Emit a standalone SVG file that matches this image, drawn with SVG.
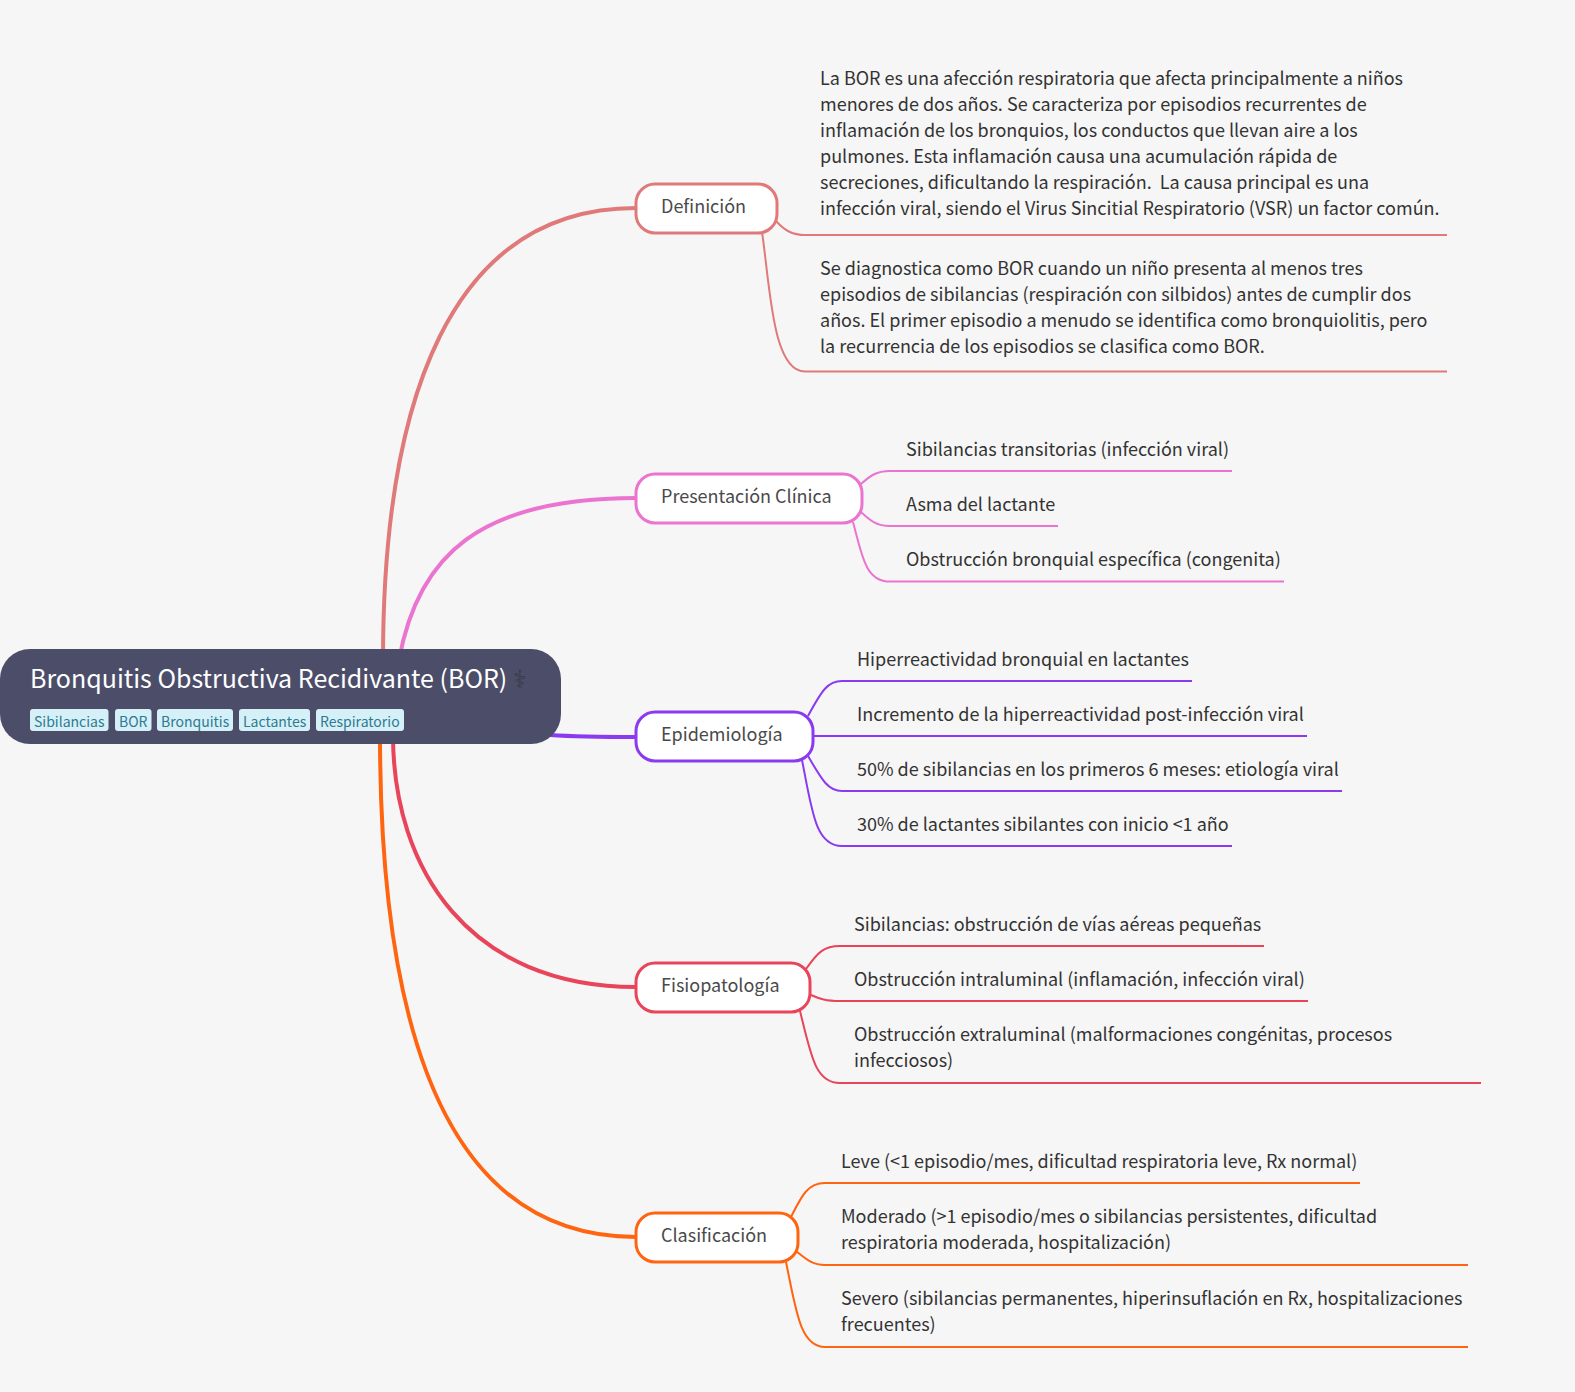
<svg xmlns="http://www.w3.org/2000/svg" width="1575" height="1392" viewBox="0 0 1575 1392">
<style>
text{font-family:"Noto Sans CJK SC","Noto Sans",sans-serif}
.leaf{font-size:18px;fill:#333}
.branch{font-size:18px;fill:#4a4a4a}
.box{fill:#fff;stroke-width:3}
.c{fill:none;stroke-width:4}
.l{fill:none;stroke-width:2}
.tag{fill:#d6f0f7}
.tagt{font-size:14px;fill:#2d7a92}
.a{stroke:#e07a7a}.b{stroke:#ea74d0}.d{stroke:#8a3bf0}.e{stroke:#e8445a}.f{stroke:#ff6410}
</style>
<rect width="1575" height="1392" fill="#f6f6f6"/>
<g id="connectors">
<path class="c a" d="M383,660C383,400 450,208 636,208"/>
<path class="c b" d="M399,660C418,555 480,498 636,498"/>
<path class="c d" d="M550,735C580,737 600,737 636,737"/>
<path class="c e" d="M393,735C393,870 470,987 636,987"/>
<path class="c f" d="M380,735C380,1080 470,1237 636,1237"/>
<path class="l a" d="M776,221C785,231 793,235 805,235H1447"/>
<path class="l a" d="M762,232C770,285 772,371.500 805,371.500H1447"/>
<path class="l b" d="M861,484C870,476 876,471 890,471H1232"/>
<path class="l b" d="M861,512C870,520 876,526 890,526H1058"/>
<path class="l b" d="M853,522C862,555 865,581.500 890,581.500H1284"/>
<path class="l d" d="M808,716C822,690 828,681 842,681H1192"/>
<path class="l d" d="M813,736H1307"/>
<path class="l d" d="M808,756C822,780 828,791 842,791H1342"/>
<path class="l d" d="M802,760C812,810 815,846 842,846H1232"/>
<path class="l e" d="M806,969C818,952 824,946 840,946H1264"/>
<path class="l e" d="M811,995C820,999 826,1001 840,1001H1308"/>
<path class="l e" d="M800,1011C811,1055 815,1083 840,1083H1481"/>
<path class="l f" d="M791,1217C802,1195 808,1183 825,1183H1360"/>
<path class="l f" d="M796,1251C806,1259 812,1265 825,1265H1468"/>
<path class="l f" d="M786,1262C796,1310 800,1347 825,1347H1468"/>
</g>
<g id="root">
<rect x="0" y="649" width="561" height="95" rx="30" fill="#4c4e69"/>
<text x="30" y="688" font-size="25" fill="#fff">Bronquitis Obstructiva Recidivante (BOR) <tspan fill="#3a3a48">⚕</tspan></text>
<rect class="tag" x="30" y="709" width="78.500" height="22" rx="3"/><text class="tagt" x="34" y="727">Sibilancias</text>
<rect class="tag" x="115" y="709" width="36.500" height="22" rx="3"/><text class="tagt" x="119" y="727">BOR</text>
<rect class="tag" x="157" y="709" width="76" height="22" rx="3"/><text class="tagt" x="161" y="727">Bronquitis</text>
<rect class="tag" x="239" y="709" width="71" height="22" rx="3"/><text class="tagt" x="243" y="727">Lactantes</text>
<rect class="tag" x="316" y="709" width="88" height="22" rx="3"/><text class="tagt" x="320" y="727">Respiratorio</text>
</g>
<g id="n-definicion"><rect class="box a" x="636" y="184" width="141" height="49" rx="19"/><text class="branch" x="661" y="213">Definición</text></g>
<g id="n-presentacion"><rect class="box b" x="636" y="474" width="226" height="49" rx="19"/><text class="branch" x="661" y="503">Presentación Clínica</text></g>
<g id="n-epidemiologia"><rect class="box d" x="636" y="712" width="177" height="49" rx="19"/><text class="branch" x="661" y="741">Epidemiología</text></g>
<g id="n-fisiopatologia"><rect class="box e" x="636" y="963" width="174" height="49" rx="19"/><text class="branch" x="661" y="992">Fisiopatología</text></g>
<g id="n-clasificacion"><rect class="box f" x="636" y="1213" width="162" height="49" rx="19"/><text class="branch" x="661" y="1242">Clasificación</text></g>
<g id="leaf-def1"><text class="leaf" x="820" y="85">La BOR es una afección respiratoria que afecta principalmente a niños</text><text class="leaf" x="820" y="111">menores de dos años. Se caracteriza por episodios recurrentes de</text><text class="leaf" x="820" y="137">inflamación de los bronquios, los conductos que llevan aire a los</text><text class="leaf" x="820" y="163">pulmones. Esta inflamación causa una acumulación rápida de</text><text class="leaf" x="820" y="189" xml:space="preserve">secreciones, dificultando la respiración.  La causa principal es una</text><text class="leaf" x="820" y="215">infección viral, siendo el Virus Sincitial Respiratorio (VSR) un factor común.</text></g>
<g id="leaf-def2"><text class="leaf" x="820" y="275">Se diagnostica como BOR cuando un niño presenta al menos tres</text><text class="leaf" x="820" y="301">episodios de sibilancias (respiración con silbidos) antes de cumplir dos</text><text class="leaf" x="820" y="327">años. El primer episodio a menudo se identifica como bronquiolitis, pero</text><text class="leaf" x="820" y="353">la recurrencia de los episodios se clasifica como BOR.</text></g>
<g id="leaf-pre"><text class="leaf" x="906" y="456">Sibilancias transitorias (infección viral)</text><text class="leaf" x="906" y="511">Asma del lactante</text><text class="leaf" x="906" y="566">Obstrucción bronquial específica (congenita)</text></g>
<g id="leaf-epi"><text class="leaf" x="857" y="666">Hiperreactividad bronquial en lactantes</text><text class="leaf" x="857" y="721">Incremento de la hiperreactividad post-infección viral</text><text class="leaf" x="857" y="776">50% de sibilancias en los primeros 6 meses: etiología viral</text><text class="leaf" x="857" y="831">30% de lactantes sibilantes con inicio &lt;1 año</text></g>
<g id="leaf-fis"><text class="leaf" x="854" y="931">Sibilancias: obstrucción de vías aéreas pequeñas</text><text class="leaf" x="854" y="986">Obstrucción intraluminal (inflamación, infección viral)</text><text class="leaf" x="854" y="1041">Obstrucción extraluminal (malformaciones congénitas, procesos</text><text class="leaf" x="854" y="1067">infecciosos)</text></g>
<g id="leaf-cla"><text class="leaf" x="841" y="1168">Leve (&lt;1 episodio/mes, dificultad respiratoria leve, Rx normal)</text><text class="leaf" x="841" y="1223">Moderado (&gt;1 episodio/mes o sibilancias persistentes, dificultad</text><text class="leaf" x="841" y="1249">respiratoria moderada, hospitalización)</text><text class="leaf" x="841" y="1305">Severo (sibilancias permanentes, hiperinsuflación en Rx, hospitalizaciones</text><text class="leaf" x="841" y="1331">frecuentes)</text></g>
</svg>
